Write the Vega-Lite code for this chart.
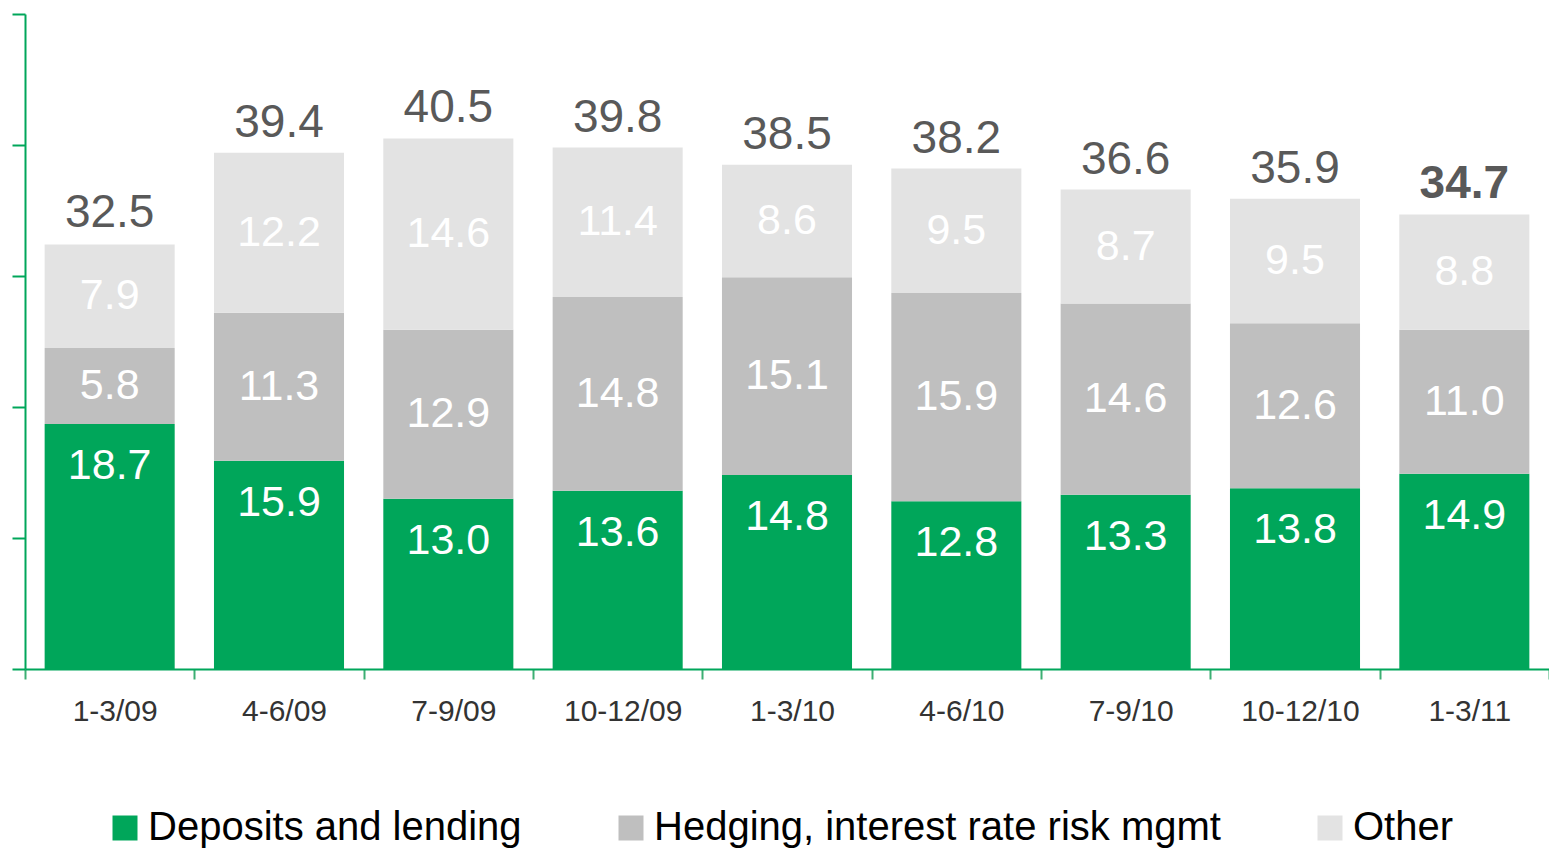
{
  "$schema": "https://vega.github.io/schema/vega-lite/v6.json",
  "width": 1524,
  "height": 655,
  "autosize": {"type": "none"},
  "padding": {"left": 25, "top": 14, "right": 0, "bottom": 179},
  "background": "white",
  "config": {
    "view": {"stroke": null},
    "font": "Liberation Sans",
    "axisY": {
      "labels": false, "grid": false, "ticks": true, "tickSize": 13, "tickWidth": 2,
      "tickColor": "#00A65A", "domainColor": "#00A65A", "domainWidth": 2, "title": null
    },
    "axisX": {
      "labelFont": "Liberation Sans", "labelFontSize": 30, "labelColor": "#333333", "labelAngle": 0,
      "labelOffset": 5, "labelPadding": 41, "labelBaseline": "alphabetic",
      "tickBand": "extent", "tickSize": 10, "tickWidth": 2, "tickColor": "#3DAF73",
      "domainColor": "#00A65A", "domainWidth": 2, "grid": false, "title": null
    }
  },
  "datasets": {
    "segments": [
      {"period": "1-3/09", "series": "Deposits and lending", "value": 18.7},
      {"period": "1-3/09", "series": "Hedging, interest rate risk mgmt", "value": 5.8},
      {"period": "1-3/09", "series": "Other", "value": 7.9},
      {"period": "4-6/09", "series": "Deposits and lending", "value": 15.9},
      {"period": "4-6/09", "series": "Hedging, interest rate risk mgmt", "value": 11.3},
      {"period": "4-6/09", "series": "Other", "value": 12.2},
      {"period": "7-9/09", "series": "Deposits and lending", "value": 13.0},
      {"period": "7-9/09", "series": "Hedging, interest rate risk mgmt", "value": 12.9},
      {"period": "7-9/09", "series": "Other", "value": 14.6},
      {"period": "10-12/09", "series": "Deposits and lending", "value": 13.6},
      {"period": "10-12/09", "series": "Hedging, interest rate risk mgmt", "value": 14.8},
      {"period": "10-12/09", "series": "Other", "value": 11.4},
      {"period": "1-3/10", "series": "Deposits and lending", "value": 14.8},
      {"period": "1-3/10", "series": "Hedging, interest rate risk mgmt", "value": 15.1},
      {"period": "1-3/10", "series": "Other", "value": 8.6},
      {"period": "4-6/10", "series": "Deposits and lending", "value": 12.8},
      {"period": "4-6/10", "series": "Hedging, interest rate risk mgmt", "value": 15.9},
      {"period": "4-6/10", "series": "Other", "value": 9.5},
      {"period": "7-9/10", "series": "Deposits and lending", "value": 13.3},
      {"period": "7-9/10", "series": "Hedging, interest rate risk mgmt", "value": 14.6},
      {"period": "7-9/10", "series": "Other", "value": 8.7},
      {"period": "10-12/10", "series": "Deposits and lending", "value": 13.8},
      {"period": "10-12/10", "series": "Hedging, interest rate risk mgmt", "value": 12.6},
      {"period": "10-12/10", "series": "Other", "value": 9.5},
      {"period": "1-3/11", "series": "Deposits and lending", "value": 14.9},
      {"period": "1-3/11", "series": "Hedging, interest rate risk mgmt", "value": 11.0},
      {"period": "1-3/11", "series": "Other", "value": 8.8}
    ],
    "totals": [
      {"period": "1-3/09", "total": 32.5},
      {"period": "4-6/09", "total": 39.4},
      {"period": "7-9/09", "total": 40.5},
      {"period": "10-12/09", "total": 39.8},
      {"period": "1-3/10", "total": 38.5},
      {"period": "4-6/10", "total": 38.2},
      {"period": "7-9/10", "total": 36.6},
      {"period": "10-12/10", "total": 35.9},
      {"period": "1-3/11", "total": 34.7}
    ]
  },
  "encoding": {
    "x": {
      "field": "period", "type": "nominal", "title": null,
      "scale": {
        "domain": ["1-3/09", "4-6/09", "7-9/09", "10-12/09", "1-3/10", "4-6/10", "7-9/10", "10-12/10", "1-3/11"],
        "paddingInner": 0, "paddingOuter": 0
      }
    }
  },
  "layer": [
    {
      "data": {"name": "segments"},
      "mark": {"type": "bar", "width": {"band": 0.768}},
      "encoding": {
        "y": {
          "field": "value", "type": "quantitative", "stack": "zero", "title": null,
          "scale": {"domain": [0, 50], "nice": false},
          "axis": {"values": [0, 10, 20, 30, 40, 50], "labels": false, "grid": false, "title": null}
        },
        "order": {"field": "series", "sort": "ascending"},
        "color": {
          "field": "series", "type": "nominal",
          "scale": {
            "domain": ["Deposits and lending", "Hedging, interest rate risk mgmt", "Other"],
            "range": ["#00A65A", "#BFBFBF", "#E3E3E3"]
          },
          "legend": {
            "orient": "none", "legendX": 80, "legendY": 794, "direction": "horizontal",
            "title": null, "symbolType": "square", "symbolSize": 625, "symbolStrokeWidth": 0,
            "symbolOpacity": 1, "labelFont": "Liberation Sans", "labelFontSize": 40, "labelColor": "#000000",
            "labelOffset": 3, "columnPadding": 89, "padding": 0, "labelLimit": 1000
          }
        }
      }
    },
    {
      "data": {"name": "segments"},
      "mark": {"type": "text", "fontSize": 43, "color": "#FFFFFF", "baseline": "middle", "align": "center", "font": "Liberation Sans"},
      "encoding": {
        "y": {"field": "value", "type": "quantitative", "stack": "zero", "bandPosition": 0.5, "title": null, "axis": {"values": [0, 10, 20, 30, 40, 50], "labels": false, "grid": false, "title": null}},
        "detail": {"field": "series"},
        "order": {"field": "series", "sort": "ascending"},
        "text": {"field": "value", "type": "quantitative", "format": ".1f"},
        "opacity": {"condition": {"test": "datum.series === 'Deposits and lending'", "value": 0}, "value": 1}
      }
    },
    {
      "data": {"name": "segments"},
      "transform": [{"filter": "datum.series === 'Deposits and lending'"}],
      "mark": {"type": "text", "fontSize": 43, "color": "#FFFFFF", "baseline": "middle", "align": "center", "dy": 42, "font": "Liberation Sans"},
      "encoding": {
        "y": {"field": "value", "type": "quantitative", "stack": null, "title": null, "axis": {"values": [0, 10, 20, 30, 40, 50], "labels": false, "grid": false, "title": null}},
        "text": {"field": "value", "type": "quantitative", "format": ".1f"}
      }
    },
    {
      "data": {"name": "totals"},
      "transform": [{"filter": "datum.period !== '1-3/11'"}],
      "mark": {"type": "text", "fontSize": 46, "color": "#595959", "baseline": "alphabetic", "align": "center", "dy": -16, "font": "Liberation Sans"},
      "encoding": {
        "y": {"field": "total", "type": "quantitative", "title": null, "axis": {"values": [0, 10, 20, 30, 40, 50], "labels": false, "grid": false, "title": null}},
        "text": {"field": "total", "type": "quantitative", "format": ".1f"}
      }
    },
    {
      "data": {"name": "totals"},
      "transform": [{"filter": "datum.period === '1-3/11'"}],
      "mark": {"type": "text", "fontSize": 46, "fontWeight": "bold", "color": "#595959", "baseline": "alphabetic", "align": "center", "dy": -16, "font": "Liberation Sans"},
      "encoding": {
        "y": {"field": "total", "type": "quantitative", "title": null, "axis": {"values": [0, 10, 20, 30, 40, 50], "labels": false, "grid": false, "title": null}},
        "text": {"field": "total", "type": "quantitative", "format": ".1f"}
      }
    }
  ]
}
